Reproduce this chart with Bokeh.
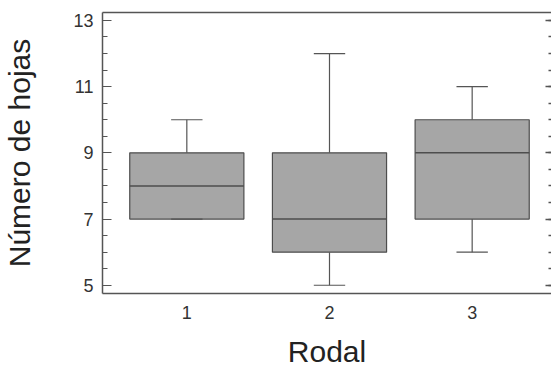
import numpy as np
from bokeh.plotting import figure
from bokeh.models import FixedTicker, LinearAxis, Range1d
from bokeh.embed import file_html
from bokeh.resources import INLINE

# ---- data ----
rodal = ["1", "2", "3"]
q1 = [7, 6, 7]
median = [8, 7, 9]
q3 = [9, 9, 10]
lower = [7, 5, 6]
upper = [10, 12, 11]
y_ticks = [5, 7, 9, 11, 13]

x = np.arange(1, len(rodal) + 1)
box_w = 0.8
cap_w = 0.22

FONT = "Liberation Sans"
AX = "#555555"

p = figure(width=551, height=370,
           x_range=Range1d(0.409, 3.556), y_range=Range1d(4.75, 13.24),
           output_backend="svg", toolbar_location=None,
           min_border_left=101, min_border_right=0, min_border_top=12,
           min_border_bottom=77)
p.grid.visible = False
p.background_fill_color = "white"
p.border_fill_color = "white"
p.outline_line_color = None

# x axis
p.xaxis.ticker = FixedTicker(ticks=list(x))
p.xaxis.major_label_overrides = {int(v): s for v, s in zip(x, rodal)}
p.xaxis.major_tick_line_color = None
p.xaxis.minor_tick_line_color = None
p.xaxis.axis_line_color = AX
p.xaxis.axis_line_width = 1.5
p.xaxis.major_label_text_font = FONT
p.xaxis.major_label_text_font_size = "18px"
p.xaxis.major_label_text_color = "#333333"
p.xaxis.major_label_standoff = 6
p.xaxis.axis_label = "Rodal"
p.xaxis.axis_label_text_font = FONT
p.xaxis.axis_label_text_font_size = "30px"
p.xaxis.axis_label_text_font_style = "normal"
p.xaxis.axis_label_text_color = "#222222"
p.xaxis.axis_label_standoff = 13

# y axis
minor = list(np.arange(y_ticks[0], y_ticks[-1] + 0.01, 0.5))
p.yaxis.ticker = FixedTicker(ticks=y_ticks, minor_ticks=minor)
p.yaxis.axis_line_color = AX
p.yaxis.axis_line_width = 1.5
p.yaxis.major_tick_in = 9
p.yaxis.major_tick_out = 0
p.yaxis.minor_tick_in = 5
p.yaxis.minor_tick_out = 0
p.yaxis.major_tick_line_color = AX
p.yaxis.minor_tick_line_color = AX
p.yaxis.major_label_text_font = FONT
p.yaxis.major_label_text_font_size = "18px"
p.yaxis.major_label_text_color = "#333333"
p.yaxis.major_label_standoff = 9
p.yaxis.axis_label = "Número de hojas"
p.yaxis.axis_label_text_font = FONT
p.yaxis.axis_label_text_font_size = "30px"
p.yaxis.axis_label_text_font_style = "normal"
p.yaxis.axis_label_text_color = "#222222"
p.yaxis.axis_label_standoff = 34

# top border line
top = LinearAxis(ticker=FixedTicker(ticks=[]), major_tick_in=0, major_tick_out=0,
                 minor_tick_in=0, minor_tick_out=0, major_label_standoff=0,
                 axis_line_color=AX, axis_line_width=1.5)
p.add_layout(top, "above")

# right mirrored ticks (axis line itself lies just outside the picture)
ra = LinearAxis(ticker=FixedTicker(ticks=y_ticks, minor_ticks=minor),
                major_tick_in=6, major_tick_out=0, minor_tick_in=3, minor_tick_out=0,
                major_tick_line_color=AX, minor_tick_line_color=AX,
                major_tick_line_width=1.5, minor_tick_line_width=1.5,
                axis_line_color=None,
                major_label_overrides={t: "" for t in y_ticks},
                major_label_standoff=0)
p.add_layout(ra, "right")

# boxes
p.vbar(x=x, width=box_w, bottom=q1, top=q3, fill_color="#a6a6a6",
       line_color="#4d4d4d", line_width=1.2)
p.segment(x0=x - box_w / 2, x1=x + box_w / 2, y0=median, y1=median,
          line_color="#4d4d4d", line_width=1.5)
# whiskers
p.segment(x0=x, x1=x, y0=q3, y1=upper, line_color="#555555", line_width=1.2)
p.segment(x0=x, x1=x, y0=q1, y1=lower, line_color="#555555", line_width=1.2)
p.segment(x0=x - cap_w / 2, x1=x + cap_w / 2, y0=upper, y1=upper,
          line_color="#555555", line_width=1.2)
p.segment(x0=x - cap_w / 2, x1=x + cap_w / 2, y0=lower, y1=lower,
          line_color="#555555", line_width=1.2)

open("out.html", "w").write(file_html(p, INLINE))
